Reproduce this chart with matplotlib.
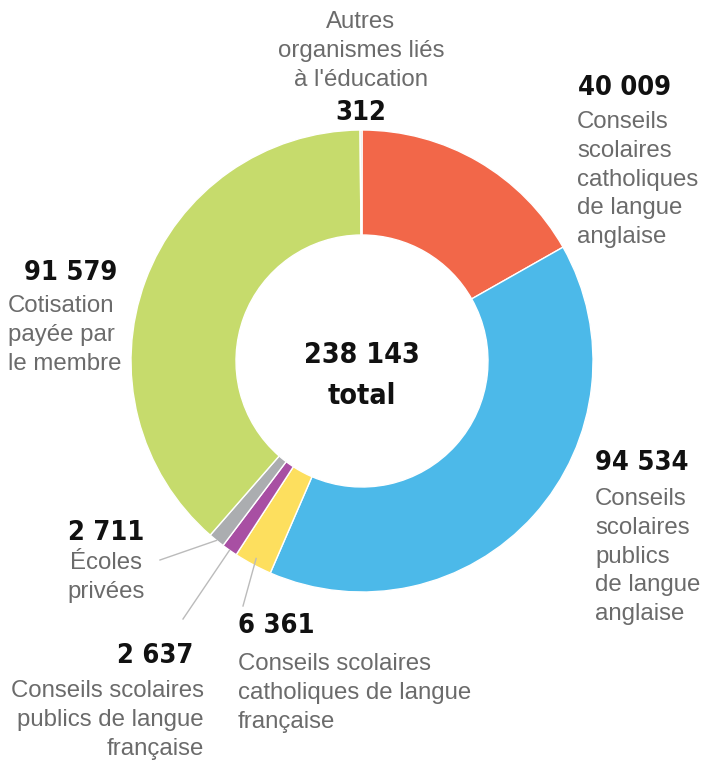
import matplotlib
matplotlib.use("Agg")
import matplotlib.pyplot as plt
import numpy as np

# Données (sens horaire à partir du haut)
valeurs = [40009, 94534, 6361, 2637, 2711, 91579, 312]
nombres = ["40 009", "94 534", "6 361", "2 637", "2 711", "91 579", "312"]
libelles = [
    ["Conseils", "scolaires", "catholiques", "de langue", "anglaise"],
    ["Conseils", "scolaires", "publics", "de langue", "anglaise"],
    ["Conseils scolaires", "catholiques de langue", "française"],
    ["Conseils scolaires", "publics de langue", "française"],
    ["Écoles", "privées"],
    ["Cotisation", "payée par", "le membre"],
    ["Autres", "organismes liés", "à l'éducation"],
]
couleurs = ["#F26749", "#4CB9E9", "#FDDF5E", "#A84FA3", "#ABADB0", "#C6DB6C", "#D2D2D2"]
total_txt = "238 143"

LABEL_FONT = ["Liberation Sans", "DejaVu Sans"]
NUM_FONT = ["DejaVu Sans"]
GRIS = "#6b6b6b"

fig = plt.figure(figsize=(7.04, 7.61), dpi=100)
ax = fig.add_axes([0, 0, 1, 1])

cx, cy, R = 362, 361, 231
wedges, _ = ax.pie(
    valeurs,
    colors=couleurs,
    startangle=-90,
    counterclock=True,
    radius=R,
    center=(cx, cy),
    wedgeprops=dict(width=R - 126, edgecolor="white", linewidth=1),
)

ax.set_xlim(0, 704)
ax.set_ylim(761, 0)
ax.set_aspect("auto")
ax.axis("off")

# (x nombre, y nombre, alignement, x texte, alignement texte, y 1re ligne)
positions = [
    (578, 95, "left", 577, "left", 128),
    (595, 470, "left", 595, "left", 505),
    (238, 633, "left", 238, "left", 670),
    (193, 663, "right", 204, "right", 697),
    (106, 540, "center", 106, "center", 569),
    (117, 280, "right", 8, "left", 312),
    (361, 120, "center", 361, "center", 28),
]
pas = 28.8

for i, (nx, ny, nha, tx, tha, ty) in enumerate(positions):
    ax.text(nx, ny, nombres[i], ha=nha, va="baseline", fontsize=19.5,
            fontweight="bold", fontstretch="condensed", family=NUM_FONT,
            color="#111111")
    for k, ligne in enumerate(libelles[i]):
        ax.text(tx, ty + k * pas, ligne, ha=tha, va="baseline", fontsize=17.3,
                family=LABEL_FONT, color=GRIS)

# lignes de rappel pour les petites parts
fins = {2: (243, 606), 3: (183, 619), 4: (160, 560)}
for i, (ex, ey) in fins.items():
    w = wedges[i]
    t = np.deg2rad((w.theta1 + w.theta2) / 2)
    r = R * (0.97 if i == 2 else 1.0)
    sx, sy = cx + r * np.cos(t), cy + r * np.sin(t)
    ax.plot([sx, ex], [sy, ey], color="#bbbbbb", lw=1)

# total au centre
ax.text(cx, 363, total_txt, ha="center", va="baseline", fontsize=20.5,
        fontweight="bold", fontstretch="condensed", family=NUM_FONT, color="#111111")
ax.text(cx, 404, "total", ha="center", va="baseline", fontsize=20.5,
        fontweight="bold", fontstretch="condensed", family=NUM_FONT, color="#111111")

fig.savefig("out.png", dpi=100, facecolor="white")
